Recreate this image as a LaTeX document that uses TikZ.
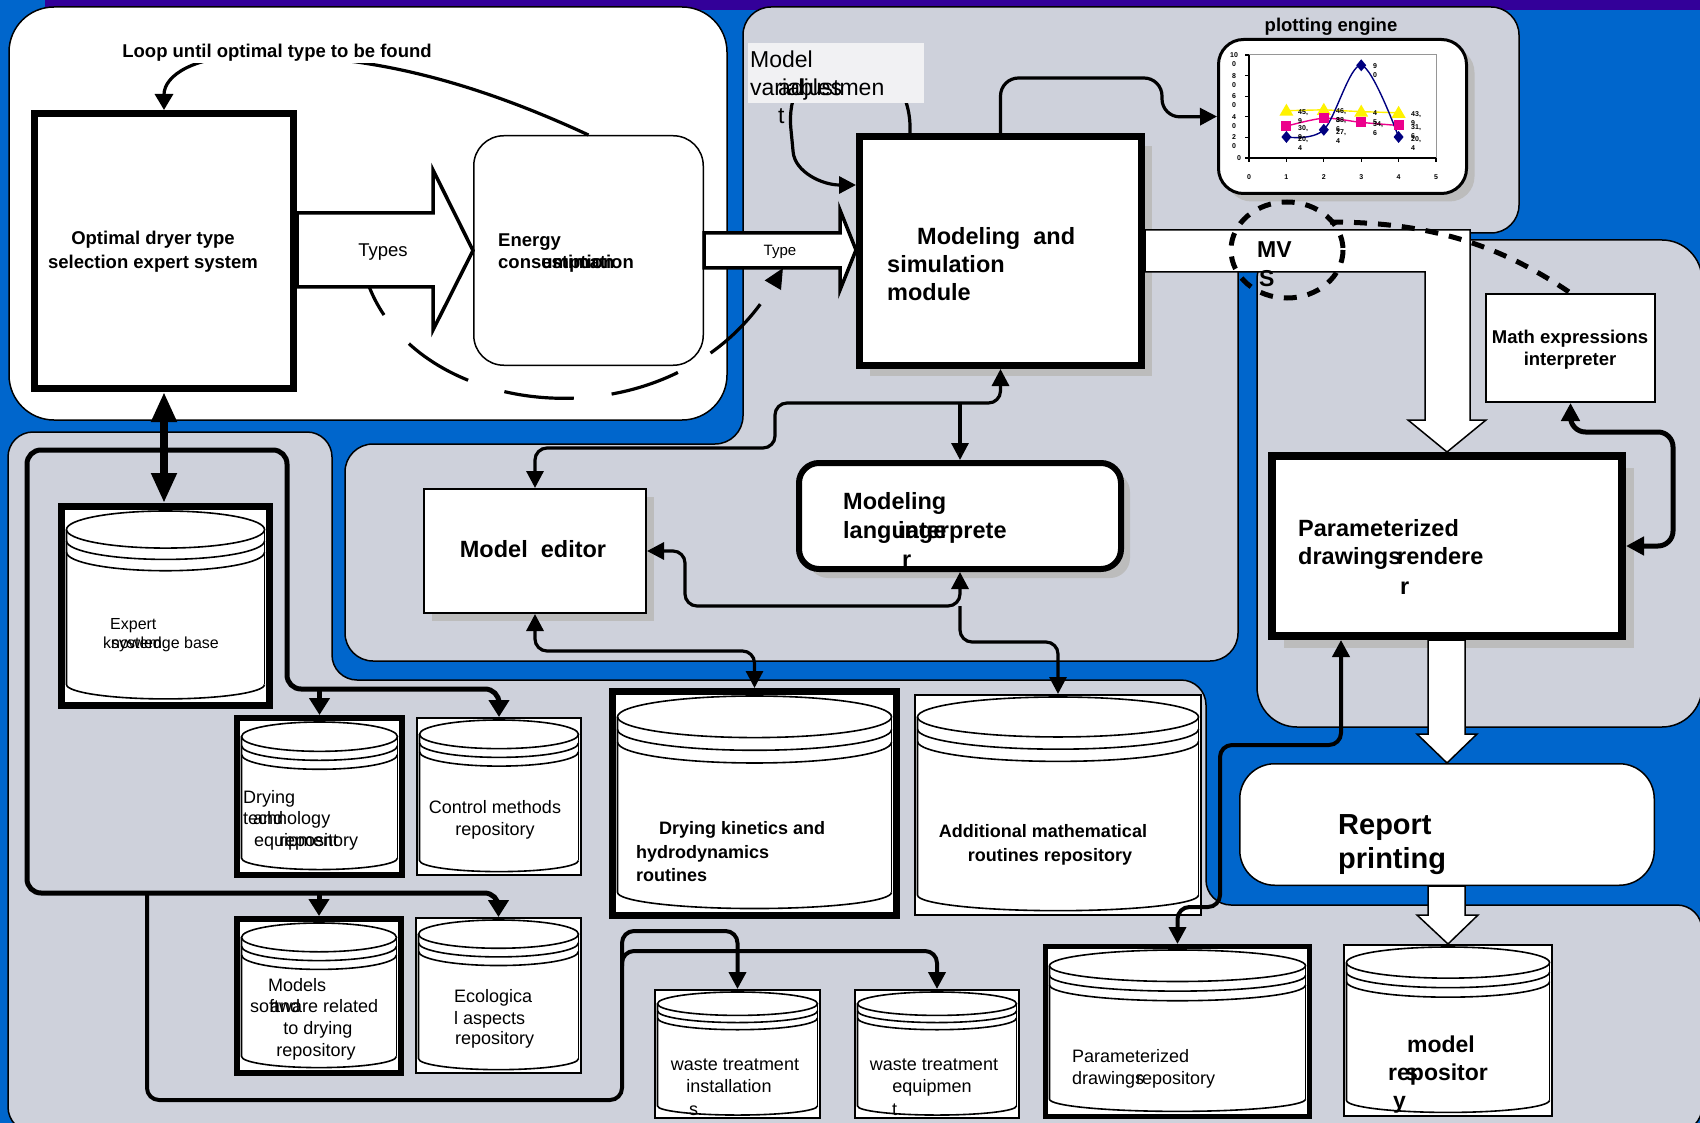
\documentclass[tikz,border=0pt]{standalone}
\usepackage{fontspec}
\setmainfont{Liberation Sans}
\usetikzlibrary{arrows.meta,shadows}

\definecolor{bgblue}{RGB}{0,102,204}
\definecolor{stripe}{RGB}{51,0,153}
\definecolor{panelgray}{RGB}{206,209,219}
\definecolor{shadowgray}{RGB}{188,188,188}
\definecolor{labelbg}{RGB}{241,241,243}
\definecolor{navyline}{RGB}{0,0,128}
\definecolor{plotframe}{RGB}{150,150,150}

% lower half of an ellipse (centre x, x radius, centre y, y radius), right end to left end
\newcommand\halfdown[4]{(#1+#2,#3) .. controls (#1+#2,#3+0.5523*#4) and (#1+0.5523*#2,#3+#4) .. (#1,#3+#4) .. controls (#1-0.5523*#2,#3+#4) and (#1-#2,#3+0.5523*#4) .. (#1-#2,#3)}

% framed database cylinder: name, left, top, right, bottom, frame width
\newcommand\dbnode[6]{%
  \pgfmathsetmacro\dbw{#4-#2-#6}%
  \pgfmathsetmacro\dbh{#5-#3-#6}%
  \node[dbbox, line width=#6pt, minimum width=\dbw pt, minimum height=\dbh pt] (#1) at ({(#2+#4)/2},{(#3+#5)/2}) {};%
  \pgfmathsetmacro\dbL{#2+#6+1.5}%
  \pgfmathsetmacro\dbR{#4-#6-1.5}%
  \pgfmathsetmacro\dbT{#3+#6}%
  \pgfmathsetmacro\dbB{#5-#6}%
  \pgfmathsetmacro\dbH{#5-#3}%
  \pgfmathsetmacro\dbcx{(\dbL+\dbR)/2}%
  \pgfmathsetmacro\dbrx{(\dbR-\dbL)/2}%
  \pgfmathsetmacro\dbry{0.09*\dbH}%
  \pgfmathsetmacro\dbcy{\dbT+\dbry+1}%
  \pgfmathsetmacro\dbs{0.055*\dbH}%
  \pgfmathsetmacro\dbby{\dbB-0.085*\dbH}%
  \pgfmathsetmacro\dbbry{0.07*\dbH}%
  \draw[dbline] (\dbcx,\dbcy) ellipse [x radius=\dbrx, y radius=\dbry];%
  \draw[dbline] \halfdown{\dbcx}{\dbrx}{\dbcy+\dbs}{\dbry};%
  \draw[dbline] \halfdown{\dbcx}{\dbrx}{\dbcy+2*\dbs}{\dbry};%
  \draw[dbline] \halfdown{\dbcx}{\dbrx}{\dbby}{\dbbry} -- (\dbL,\dbcy);%
  \draw[dbline] (\dbR,\dbcy) -- (\dbR,\dbby);%
}

\tikzset{
  txt/.style={inner sep=0pt, text depth=0pt},
  fbs/.style={txt, text height=13.3pt, font=\fontsize{18.5}{22}\selectfont\bfseries},
  fbt/.style={txt, text height=13pt, font=\fontsize{18}{22}\selectfont\bfseries},
  fbm/.style={txt, text height=16.9pt, font=\fontsize{23.5}{28}\selectfont\bfseries},
  fbb/.style={txt, text height=16.6pt, font=\fontsize{23}{28}\selectfont\bfseries},
  fbl/.style={txt, text height=20.9pt, font=\fontsize{29}{34}\selectfont\bfseries},
  frs/.style={txt, text height=13pt, font=\fontsize{18}{22}\selectfont},
  frl/.style={txt, text height=13.3pt, font=\fontsize{18.5}{22}\selectfont},
  frx/.style={txt, text height=11.5pt, font=\fontsize{16}{19}\selectfont},
  frm/.style={txt, text height=16.6pt, font=\fontsize{23}{28}\selectfont},
  frt/.style={txt, text height=10.8pt, font=\fontsize{15}{18}\selectfont},
  fch/.style={txt, text height=5pt, font=\fontsize{7}{8}\selectfont\bfseries},
  panel/.style={fill=panelgray, draw=black, line width=1.5pt},
  dbbox/.style={draw=black, fill=white, inner sep=0pt},
  dbline/.style={draw=black, line width=1.6pt},
  boxnode/.style={draw=black, fill=white, inner sep=0pt},
  shade/.style={drop shadow={shadow xshift=#1pt, shadow yshift=-#1pt, fill=shadowgray, opacity=1}},
  conn/.style={draw=black, line width=3.2pt, rounded corners=12pt},
  loopconn/.style={draw=black, line width=5pt, rounded corners=14pt, -{Triangle[length=17pt,width=20pt]}},
  blockarrow/.style={fill=white, draw=black, line width=3.5pt, line join=miter},
  thinblock/.style={fill=white, draw=black, line width=1.5pt, line join=miter},
  dotlink/.style={draw=black, line width=5pt, dash pattern=on 13pt off 11pt},
  >={Triangle[length=17pt,width=17pt]},
}

\begin{document}
\begin{tikzpicture}[x=1pt,y=-1pt]
\useasboundingbox (0,0) rectangle (1700,1123);
\fill[bgblue] (0,0) rectangle (1700,1123);
\fill[stripe] (45,0) rectangle (1700,10);

% ---------- background panels ----------
\draw[panel, rounded corners=25pt] (170,432) -- (332,432) -- (332,680) -- (1206,680) -- (1206,905)
  -- (1702,905) -- (1702,1132) -- (8,1132) -- (8,432) -- cycle;
\draw[panel, rounded corners=28pt] (1100,7) -- (1519,7) -- (1519,233) -- (1238,233) -- (1238,661)
  -- (345,661) -- (345,444) -- (743,444) -- (743,7) -- cycle;
\draw[panel, rounded corners=40pt] (1400,240) -- (1702,240) -- (1702,727) -- (1257,727) -- (1257,240) -- cycle;
\draw[fill=white, line width=1.5pt, rounded corners=45pt] (9,7) rectangle (727,420);

% ---------- boxes ----------
\node[boxnode, line width=7pt, minimum width=259pt, minimum height=275pt] (optimal) at (164,251) {};
\node[boxnode, line width=1.5pt, rounded corners=30pt, minimum width=229.5pt, minimum height=229.5pt] (energy) at (588.5,250.5) {};
\node[boxnode, line width=7pt, shade=10, minimum width=282pt, minimum height=229pt] (ms) at (1000.5,251) {};
\node[boxnode, line width=3pt, rounded corners=25pt, shade=8, minimum width=248pt, minimum height=154pt] (plot) at (1342.5,116.5) {};
\node[boxnode, line width=2pt, minimum width=169pt, minimum height=108pt] (mathx) at (1570.5,348) {};
\node[boxnode, line width=8pt, shade=12, minimum width=350pt, minimum height=180pt] (renderer) at (1447,546) {};
\node[boxnode, line width=1.5pt, rounded corners=35pt, minimum width=414.5pt, minimum height=121.5pt] (report) at (1447,824.5) {};
\node[boxnode, line width=6pt, rounded corners=20pt, shade=9, minimum width=322pt, minimum height=106pt] (mli) at (960,516) {};
\node[boxnode, line width=2pt, shade=8, minimum width=222pt, minimum height=124pt] (editor) at (535,551) {};

% ---------- repositories ----------
\dbnode{ekb}{58}{503}{273}{709}{7}
\dbnode{dte}{234}{715}{405}{878}{6}
\dbnode{cmr}{416}{717}{582}{876}{2}
\dbnode{msr}{234}{916}{404}{1076}{6}
\dbnode{ear}{415}{917}{582}{1074}{2}
\dbnode{dkh}{609}{688}{900}{919}{7}
\dbnode{amr}{914}{694}{1202}{916}{2}
\dbnode{wti}{654}{989}{821}{1119}{2}
\dbnode{wte}{854}{989}{1020}{1119}{2}
\dbnode{pdr}{1043}{944}{1312}{1119}{5}
\dbnode{mrep}{1343}{944}{1553}{1117}{2}

% ---------- chart in the plotting engine ----------
\draw[plotframe, line width=1pt] (1249,55) rectangle (1436,158);
\draw[black, line width=1.4pt] (1249,55) -- (1249,158) -- (1436,158);
\foreach \i in {0,...,5} {
  \draw[line width=1.2pt] ({1249+37.4*\i},158) -- ++(0,4);
  \node[fch] (xl\i) at ({1249+37.4*\i},177) {\i};
}
\foreach \v/\a in {20/2,40/4,60/6,80/8,100/10} {
  \draw[line width=1.2pt] (1249,{158-1.03*\v}) -- ++(-4,0);
  \node[fch] (yla\v) at (1234,{158-1.03*\v}) {\a};
  \node[fch] (ylb\v) at (1234,{167-1.03*\v}) {0};
}
\draw[line width=1.2pt] (1249,158) -- ++(-4,0);
\node[fch] (yl0) at (1239,158) {0};
\draw[yellow, line width=1.4pt] (1286.4,110.7) -- (1323.8,109.8) -- (1361.2,111.65) -- (1398.6,112.8);
\draw[magenta, line width=1.4pt] plot[smooth, tension=0.5] coordinates {(1286.4,126.2) (1323.8,118.2) (1361.2,122.4) (1398.6,125.5)};
\draw[navyline, line width=1.4pt] plot[smooth, tension=0.55] coordinates {(1286.4,137) (1323.8,129.8) (1361.2,65.3) (1398.6,137)};
\foreach \x/\y in {1286.4/110.7, 1323.8/109.8, 1361.2/111.65, 1398.6/112.8}
  \fill[yellow] (\x,\y-7) -- (\x+7,\y+5) -- (\x-7,\y+5) -- cycle;
\foreach \x/\y in {1286.4/126.2, 1323.8/118.2, 1361.2/122.4, 1398.6/125.5}
  \fill[magenta] (\x-5,\y-5) rectangle (\x+5,\y+5);
\foreach \x/\y in {1286.4/137, 1323.8/129.8, 1361.2/65.3, 1398.6/137}
  \fill[navyline] (\x,\y-6) -- (\x+5,\y) -- (\x,\y+6) -- (\x-5,\y) -- cycle;
\foreach \x/\y/\a/\b [count=\k] in {1298/139/{20,}/4, 1336/132/{27,}/4, 1373/66/9/0, 1411/139/{20,}/4,
    1298/128/{30,}/9, 1336/120/{38,}/6, 1373/124/{34,}/6, 1411/127/{31,}/6,
    1298/112/{45,}/9, 1336/111/{46,}/8, 1373/113/4/5, 1411/114/{43,}/9} {
  \node[fch, anchor=west] (cla\k) at (\x,\y) {\a};
  \node[fch, anchor=west] (clb\k) at (\x,\y+9) {\b};
}

% ---------- connectors ----------
% selection loop back to the expert system
\draw[conn, -{Triangle[length=16pt,width=18pt]}] (energy.north) .. controls (470,80) and (370,56) .. (260,56)
  .. controls (195,56) and (164,75) .. (optimal.north);
% dashed feedback around the energy estimation
\draw[line width=3.2pt, dash pattern=on 70pt off 38pt, -{Triangle[length=20pt,width=18pt]}]
  (360,250) .. controls (380,420) and (670,460) .. (783,268);
% model variables adjustment loop
\draw[conn, ->] (910,0 |- ms.north) .. controls (912,85) and (880,62) .. (850,62)
  .. controls (800,62) and (788,100) .. (792,140) .. controls (795,172) and (822,185) .. (ms.west |- 0,185);
% simulation module to plotting engine
\draw[conn, rounded corners=18pt, ->] (ms.north) -- (ms.north |- 0,78) -- (1162,78) -- (1162,117) -- (plot.west);
% simulation module, model editor, language interpreter
\draw[conn, <->] (ms.south) -- (ms.south |- 0,403) -- (775,403) -- (775,448) -- (editor.north |- 0,448) -- (editor.north);
\draw[conn, ->] (mli.north |- 0,403) -- (mli.north);
\draw[conn, <->] (editor.east) -- (685,0 |- editor.east) -- (685,606) -- (mli.south |- 0,606) -- (mli.south);
\draw[conn, ->] (mli.south |- 0,606) -- (mli.south |- 0,642) -- (amr.north |- 0,642) -- (amr.north);
\draw[conn, <->] (editor.south) -- (editor.south |- 0,651) -- (dkh.north |- 0,651) -- (dkh.north);
% math expressions and drawings renderer
\draw[conn, line width=5pt, rounded corners=15pt, {Triangle[length=18pt,width=18pt]}-{Triangle[length=18pt,width=18pt]}]
  (mathx.south) -- (mathx.south |- 0,432) -- (1673,432) -- (1673,0 |- renderer.east) -- (renderer.east);
\draw[conn, line width=4pt, <->] (1341,0 |- renderer.south) -- (1341,745) -- (1220,745) -- (1220,907)
  -- (pdr.north |- 0,907) -- (pdr.north);
% expert system and its knowledge repositories
\draw[line width=8pt, {Triangle[length=30pt,width=24pt]}-{Triangle[length=30pt,width=24pt]}]
  (optimal.south) -- (optimal.south |- ekb.north);
\coordinate (hub) at (optimal.south |- 0,450);
\draw[loopconn] (hub) -- (27,450) -- (27,893) -- (ear.north |- 0,893) -- (ear.north);
\draw[loopconn] (msr.north |- 0,893) -- (msr.north);
\draw[loopconn] (hub) -- (287,450) -- (287,689) -- (cmr.north |- 0,689) -- (cmr.north);
\draw[loopconn] (dte.north |- 0,689) -- (dte.north);
\coordinate (lowtap) at (147,893);
\draw[conn, line width=4pt, ->] (lowtap) -- (147,1100) -- (622,1100) -- (622,931) -- (wti.north |- 0,931) -- (wti.north);
\draw[conn, line width=4pt, ->] (622,966) -- (622,951) -- (wte.north |- 0,951) -- (wte.north);

% ---------- block arrows ----------
\draw[blockarrow] (optimal.east |- 0,213) -- (433,213) -- (433,170) -- (energy.west) -- (433,330) -- (433,287)
  -- (optimal.east |- 0,287) -- cycle;
\draw[blockarrow] (energy.east |- 0,233) -- (840,233) -- (840,210) -- (ms.west |- 0,250) -- (840,290) -- (840,268)
  -- (energy.east |- 0,268) -- cycle;
\draw[thinblock] (ms.east |- 0,230) -- (1470,230) -- (1470,420) -- (1486,420) -- (renderer.north) -- (1408,420)
  -- (1425,420) -- (1425,272) -- (ms.east |- 0,272) -- cycle;
\draw[thinblock] (1428,0 |- renderer.south) -- (1465,0 |- renderer.south) -- (1465,734) -- (1477,734)
  -- (report.north) -- (1417,734) -- (1428,734) -- cycle;
\draw[thinblock] (1428,0 |- report.south) -- (1465,0 |- report.south) -- (1465,915) -- (1478,915)
  -- (mrep.north) -- (1417,915) -- (1428,915) -- cycle;
\draw[dotlink] (1287,250) ellipse [x radius=56, y radius=48];
\draw[dotlink] (1330,222) .. controls (1430,222) and (1500,245) .. (mathx.north);

% ---------- labels ----------
\node[fbs, fill=white, inner sep=1.5pt, text depth=4pt, anchor=base] (looplab) at (277,57.5) {Loop until optimal type to be found};
\node[fill=labelbg, inner sep=0pt, minimum width=176pt, minimum height=60pt] (adjbox) at (836,73) {};
\node[frm, anchor=west] (tad1) at (750,59) {Model};
\node[frm, anchor=west] (tad2) at (750,87) {variables};
\node[frm, anchor=west] (tad3) at (778,87) {adjustmen};
\node[frm, anchor=west] (tad4) at (778,115) {t};

\node[fbs] (topt1) at (153,238) {Optimal dryer type};
\node[fbs] (topt2) at (153,262) {selection expert system};
\node[frl] (ttypes) at (383,250) {Types};
\node[fbs, anchor=west] (ten1) at (498,240) {Energy};
\node[fbs, anchor=west] (ten2) at (498,262) {consumption};
\node[fbs, anchor=east] (ten3) at (634,262) {estimation};
\node[frt] (ttype) at (780,250) {Type};

\node[fbm, anchor=west] (tms1) at (917,236) {Modeling~~and};
\node[fbm, anchor=west] (tms2) at (887,264) {simulation};
\node[fbm, anchor=west] (tms3) at (887,292) {module};
\node[fbs] (tplot) at (1331,25) {plotting engine};
\node[fbb, anchor=west] (tmv1) at (1257,249) {MV};
\node[fbb, anchor=west] (tmv2) at (1259,278) {S};
\node[fbs] (tmath1) at (1570,337) {Math expressions};
\node[fbs] (tmath2) at (1570,359) {interpreter};

\node[fbm, anchor=west] (tpr1) at (1298,528) {Parameterized};
\node[fbm, anchor=west] (tpr2) at (1298,556) {drawings};
\node[fbm, anchor=west] (tpr3) at (1397,556) {rendere};
\node[fbm, anchor=west] (tpr4) at (1400,586) {r};
\node[fbl, anchor=west] (trp1) at (1338,824) {Report};
\node[fbl, anchor=west] (trp2) at (1338,858) {printing};

\node[fbm] (ted) at (533,549) {Model~~editor};
\node[fbm, anchor=west] (tml1) at (843,501) {Modeling};
\node[fbm, anchor=west] (tml2) at (843,530) {language};
\node[fbm, anchor=west] (tml3) at (898,530) {interprete};
\node[fbm, anchor=west] (tml4) at (902,559) {r};

\node[frx, anchor=west] (tek1) at (110,624) {Expert};
\node[frx, anchor=west] (tek2) at (103,643) {knowledge base};
\node[frx, anchor=west] (tek3) at (111,643) {system};

\node[frs, anchor=west] (tdt1) at (243,797) {Drying};
\node[frs, anchor=west] (tdt2) at (243,818) {technology};
\node[frs, anchor=west] (tdt3) at (253,818) {and};
\node[frs, anchor=west] (tdt4) at (254,840) {equipment};
\node[frs, anchor=west] (tdt5) at (279,840) {repository};
\node[frs] (tcm1) at (495,807) {Control methods};
\node[frs] (tcm2) at (495,829) {repository};
\node[frs, anchor=west] (tsw1) at (268,985) {Models};
\node[frs, anchor=west] (tsw2) at (250,1006) {software related};
\node[frs, anchor=west] (tsw3) at (270,1006) {and};
\node[frs] (tsw4) at (318,1028) {to drying};
\node[frs] (tsw5) at (316,1050) {repository};
\node[frs, anchor=west] (tec1) at (454,996) {Ecologica};
\node[frs, anchor=west] (tec2) at (454,1018) {l aspects};
\node[frs, anchor=west] (tec3) at (455,1038) {repository};

\node[fbt, anchor=west] (tdk1) at (659,828) {Drying kinetics and};
\node[fbt, anchor=west] (tdk2) at (636,852) {hydrodynamics};
\node[fbt, anchor=west] (tdk3) at (636,875) {routines};
\node[fbt] (tam1) at (1043,831) {Additional mathematical};
\node[fbt] (tam2) at (1050,855) {routines repository};

\node[frs] (twi1) at (735,1064) {waste treatment};
\node[frs] (twi2) at (729,1086) {installation};
\node[frs, anchor=west] (twi3) at (689,1109) {s};
\node[frs] (twe1) at (934,1064) {waste treatment};
\node[frs] (twe2) at (932,1086) {equipmen};
\node[frs, anchor=west] (twe3) at (892,1109) {t};

\node[frs, anchor=west] (tpd1) at (1072,1056) {Parameterized};
\node[frs, anchor=west] (tpd2) at (1072,1078) {drawings};
\node[frs, anchor=west] (tpd3) at (1136,1078) {repository};

\node[fbb] (tmr1) at (1441,1044) {model};
\node[fbb, anchor=west] (tmr2) at (1388,1072) {repositor};
\node[fbb, anchor=west] (tmr3) at (1405,1072) {s};
\node[fbb, anchor=west] (tmr4) at (1393,1100) {y};
\end{tikzpicture}
\end{document}
